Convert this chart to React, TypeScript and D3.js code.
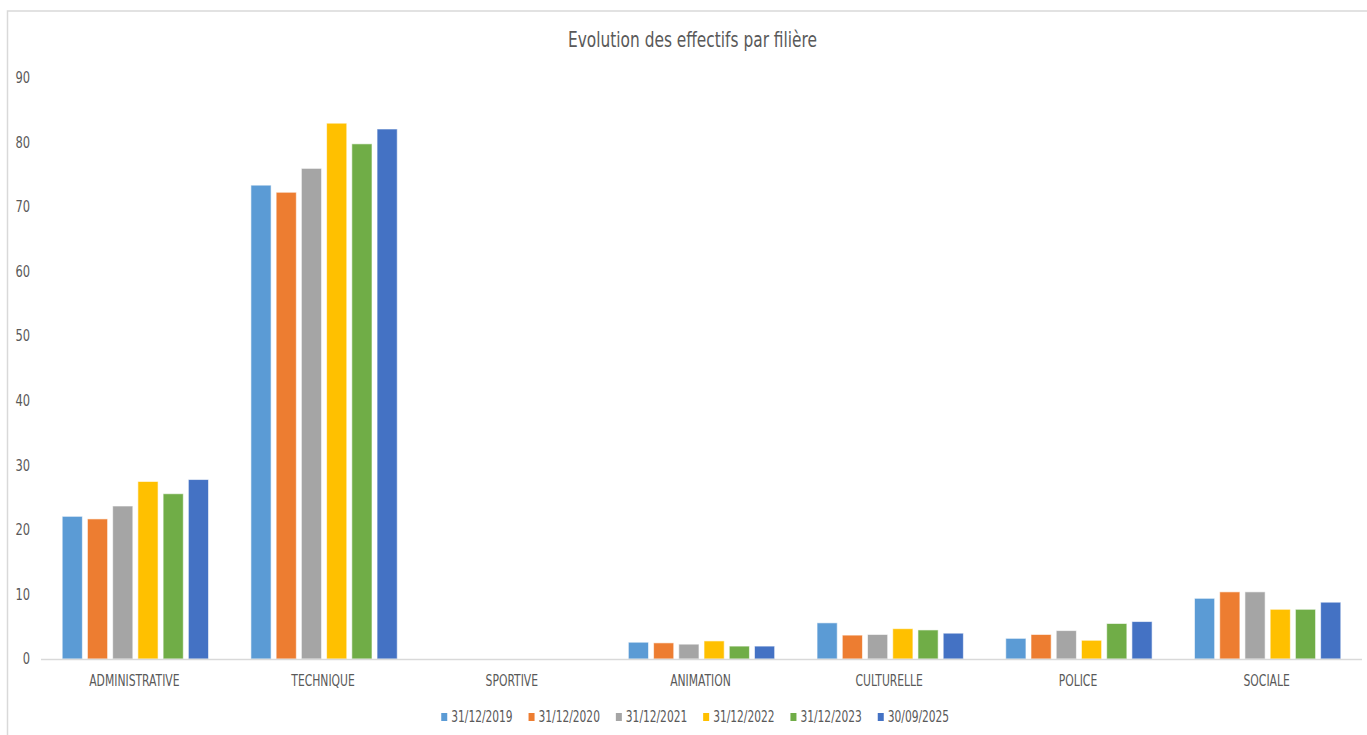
import React from "react";
import * as d3 from "d3";

const categories = ["ADMINISTRATIVE", "TECHNIQUE", "SPORTIVE", "ANIMATION", "CULTURELLE", "POLICE", "SOCIALE"];
const seriesNames = ["31/12/2019", "31/12/2020", "31/12/2021", "31/12/2022", "31/12/2023", "30/09/2025"];
const s2019 = [22.1, 73.4, 0, 2.6, 5.6, 3.2, 9.4];
const s2020 = [21.7, 72.3, 0, 2.5, 3.7, 3.8, 10.4];
const s2021 = [23.7, 76.0, 0, 2.3, 3.8, 4.4, 10.4];
const s2022 = [27.5, 83.0, 0, 2.8, 4.7, 2.9, 7.7];
const s2023 = [25.6, 79.8, 0, 2.0, 4.5, 5.5, 7.7];
const s2025 = [27.8, 82.1, 0, 2.0, 4.0, 5.8, 8.8];
const yTicks = [0, 10, 20, 30, 40, 50, 60, 70, 80, 90];
const colors = ["#5B9BD5", "#ED7D31", "#A5A5A5", "#FFC000", "#70AD47", "#4472C4"];
const title = "Evolution des effectifs par filière";

const seriesValues = [s2019, s2020, s2021, s2022, s2023, s2025];

const W = 1367;
const H = 735;
const FONT = "'Liberation Sans Narrow', 'DejaVu Sans Condensed', 'Liberation Sans', sans-serif";
const TXT = "#595959";

export default function App() {
  const left = 41;
  const right = 1362;
  const top = 78;
  const bottom = 659;

  const x0 = d3.scaleBand<string>().domain(categories).range([left, right]).paddingInner(0).paddingOuter(0);
  const x1 = d3
    .scaleBand<string>()
    .domain(seriesNames)
    .range([0, x0.bandwidth()])
    .paddingInner(0.2)
    .paddingOuter(0.84);
  const y = d3.scaleLinear().domain([0, 90]).range([bottom, top]);

  const legendStep = 87.3;
  const legendTotal = legendStep * (seriesNames.length - 1) + 70;
  const legendStart = 694.5 - legendTotal / 2;

  return (
    <svg width={W} height={H} style={{ position: "absolute", left: 0, top: 0, background: "#fff" }}>
      <rect x={7.5} y={11} width={1400} height={800} fill="#fff" stroke="#d9d9d9" strokeWidth={1.5} />
      <text
        x={692.5}
        y={47}
        textAnchor="middle"
        fontFamily={FONT}
        fontSize={21}
        fill={TXT}
        textLength={249}
        lengthAdjust="spacingAndGlyphs"
      >
        {title}
      </text>

      {yTicks.map((t) => (
        <g key={t} transform={`translate(30,${y(t)}) scale(0.85,1)`}>
          <text x={0} y={0} dy="0.35em" textAnchor="end" fontFamily={FONT} fontSize={15} fill={TXT}>
            {t}
          </text>
        </g>
      ))}

      {categories.map((c, ci) => (
        <g key={c} transform={`translate(${x0(c)},0)`}>
          {seriesNames.map((s, si) => {
            const v = seriesValues[si][ci];
            if (v <= 0) return null;
            return (
              <rect
                key={s}
                x={x1(s)}
                y={y(v)}
                width={x1.bandwidth()}
                height={y(0) - y(v)}
                fill={colors[si]}
                stroke="#fff"
                strokeOpacity={0.6}
                strokeWidth={1}
              />
            );
          })}
        </g>
      ))}

      <line x1={left} x2={right} y1={y(0) + 0.5} y2={y(0) + 0.5} stroke="#d9d9d9" strokeWidth={1.5} />

      {categories.map((c) => (
        <g key={c} transform={`translate(${(x0(c) as number) + x0.bandwidth() / 2 - 1},681) scale(0.8,1)`}>
          <text x={0} y={0} dy="0.35em" textAnchor="middle" fontFamily={FONT} fontSize={15} fill={TXT}>
            {c}
          </text>
        </g>
      ))}

      {seriesNames.map((s, si) => {
        const lx = legendStart + si * legendStep;
        return (
          <g key={s} transform={`translate(${lx},717)`}>
            <rect x={0} y={-4} width={6} height={8} fill={colors[si]} />
            <g transform="translate(10,0) scale(0.79,1)">
              <text x={0} y={0} dy="0.35em" fontFamily={FONT} fontSize={15} fill={TXT}>
                {s}
              </text>
            </g>
          </g>
        );
      })}
    </svg>
  );
}
